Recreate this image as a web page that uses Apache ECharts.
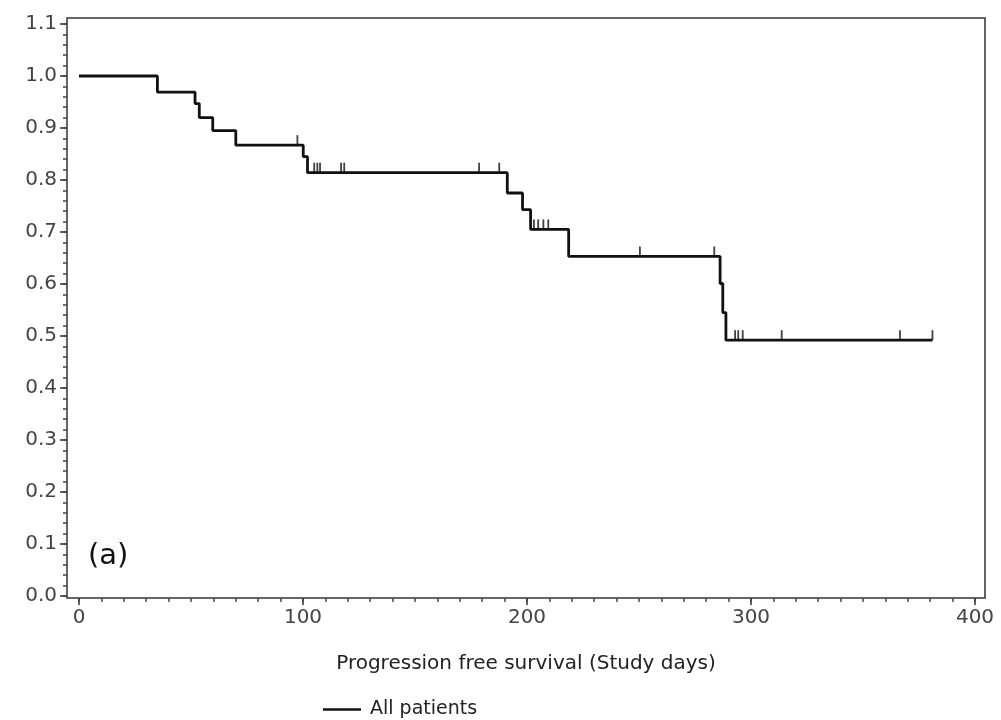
<!DOCTYPE html>
<html lang="en">
<head>
    <meta charset="UTF-8">
    <title>Progression free survival</title>
    <script src="https://cdn.jsdelivr.net/npm/echarts@6/dist/echarts.min.js"></script>
    <style>
        html, body { margin: 0; padding: 0; background: #fff; }
        #chart { width: 1001px; height: 720px; }
    </style>
</head>
<body>
<div id="chart"></div>
<script type="text/javascript">
    // step points (day, survival)
    var eventDays = [0, 35, 51.8, 53.7, 59.7, 70, 100.1, 102, 191.2, 198, 201.6, 218.6, 286.2, 287.4, 288.8, 381];
    var survival  = [1.0, 0.969, 0.947, 0.920, 0.895, 0.867, 0.845, 0.814, 0.775, 0.743, 0.705, 0.653, 0.601, 0.545, 0.492, 0.492];
    // censored patients
    var censorDays = [97.5, 105, 106.4, 107.6, 117, 118.4, 178.6, 187.6, 203.1, 205, 207.3, 209.5, 250.4, 283.6, 292.9, 294.3, 296.3, 313.7, 366.5, 381];
    var censorSurv = [0.867, 0.814, 0.814, 0.814, 0.814, 0.814, 0.814, 0.814, 0.705, 0.705, 0.705, 0.705, 0.653, 0.653, 0.492, 0.492, 0.492, 0.492, 0.492, 0.492];
    var xTicks = [0, 100, 200, 300, 400];
    var yTicks = [0, 0.1, 0.2, 0.3, 0.4, 0.5, 0.6, 0.7, 0.8, 0.9, 1.0, 1.1];

    // minor tick positions
    var xMinor = [];
    for (var i = 0; i <= 400; i += 10) xMinor.push(i);
    var yMinor = [];
    for (var j = 0; j <= 55; j++) yMinor.push(+(j * 0.02).toFixed(2));

    var chart = echarts.init(document.getElementById('chart'));
    var lineData = eventDays.map(function (d, i) { return [d, survival[i]]; });
    var censorData = censorDays.map(function (d, i) { return [d, censorSurv[i]]; });
    var font = '"DejaVu Sans", sans-serif';
    var xRange = { min: -5.36, max: 404.46 };   // frame is a bit wider than 0..400
    var yRange = { min: -0.0038, max: 1.1115 };

    var option = {
        animation: false,
        grid: {
            left: 67, right: 16, top: 18, bottom: 122,
            show: true, borderColor: '#333', borderWidth: 1.5, backgroundColor: 'transparent'
        },
        legend: {
            data: [{ name: 'All patients', icon: 'rect' }],
            left: 318, top: 695,
            itemWidth: 38, itemHeight: 2.5, itemGap: 8,
            textStyle: { fontFamily: font, fontSize: 19, color: '#222', padding: [0, 0, 0, 4] }
        },
        graphic: [{
            type: 'text', left: 88, top: 542,
            style: { text: '(a)', font: '29px ' + font, fill: '#111' }
        }],
        xAxis: [
            {
                type: 'value', min: xRange.min, max: xRange.max,
                name: 'Progression free survival (Study days)',
                nameLocation: 'middle', nameGap: 56,
                nameTextStyle: { fontFamily: font, fontSize: 20, color: '#222' },
                axisLine: { show: false, onZero: false },
                axisTick: { show: true, length: 7, customValues: xTicks, lineStyle: { color: '#333', width: 1.5 } },
                axisLabel: { fontFamily: font, fontSize: 20, color: '#444', margin: 10, customValues: xTicks },
                splitLine: { show: false }
            },
            {
                type: 'value', min: xRange.min, max: xRange.max, position: 'bottom',
                axisLine: { show: false, onZero: false },
                axisTick: { show: true, length: 4, customValues: xMinor, lineStyle: { color: '#444', width: 1.5 } },
                axisLabel: { show: false },
                splitLine: { show: false }
            }
        ],
        yAxis: [
            {
                type: 'value', min: yRange.min, max: yRange.max,
                axisLine: { show: false, onZero: false },
                axisTick: { show: true, length: 7, customValues: yTicks, lineStyle: { color: '#333', width: 1.5 } },
                axisLabel: {
                    fontFamily: font, fontSize: 20, color: '#444', margin: 10, customValues: yTicks,
                    formatter: function (v) { return v.toFixed(1); }
                },
                splitLine: { show: false }
            },
            {
                type: 'value', min: yRange.min, max: yRange.max, position: 'left',
                axisLine: { show: false, onZero: false },
                axisTick: { show: true, length: 4, customValues: yMinor, lineStyle: { color: '#444', width: 1.5 } },
                axisLabel: { show: false },
                splitLine: { show: false }
            }
        ],
        series: [
            {
                name: 'All patients', type: 'line', step: 'end',
                data: lineData, symbol: 'none',
                lineStyle: { color: '#111', width: 2.8 },
                itemStyle: { color: '#111' }
            },
            {
                name: 'censored', type: 'scatter',
                data: censorData,
                symbol: 'rect', symbolSize: [1.8, 10], symbolOffset: [0, -5],
                itemStyle: { color: '#111' }
            }
        ]
    };
    chart.setOption(option);
</script>
</body>
</html>
